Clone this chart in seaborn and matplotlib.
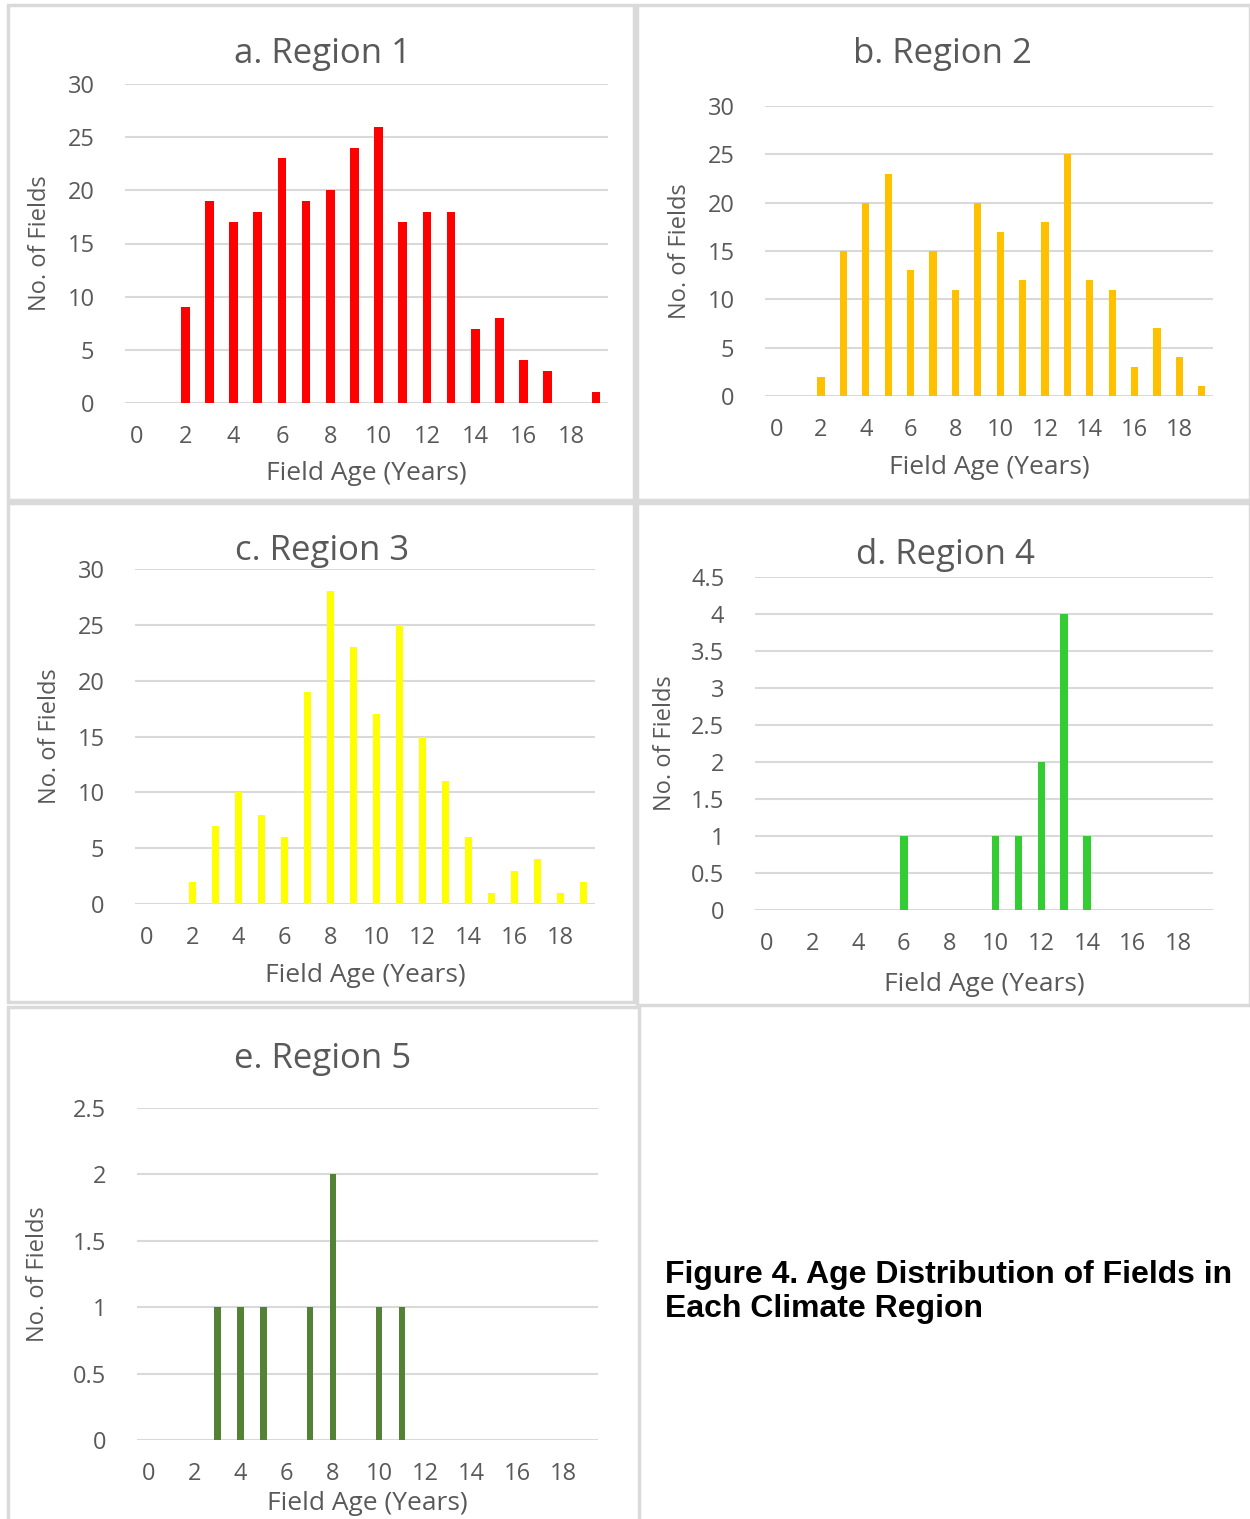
import matplotlib
matplotlib.use("Agg")
import matplotlib.pyplot as plt
import seaborn as sns
from matplotlib.patches import Rectangle

# field ages (category axis 0..19)
ages = list(range(20))
tick_labels = [str(a) for a in range(0, 20, 2)]

region1 = [0, 0, 9, 19, 17, 18, 23, 19, 20, 24, 26, 17, 18, 18, 7, 8, 4, 3, 0, 1]
region2 = [0, 0, 2, 15, 20, 23, 13, 15, 11, 20, 17, 12, 18, 25, 12, 11, 3, 7, 4, 1]
region3 = [0, 0, 2, 7, 10, 8, 6, 19, 28, 23, 17, 25, 15, 11, 6, 1, 3, 4, 1, 2]
region4 = [0, 0, 0, 0, 0, 0, 1, 0, 0, 0, 1, 1, 2, 4, 1, 0, 0, 0, 0, 0]
region5 = [0, 0, 0, 1, 1, 1, 0, 1, 2, 0, 1, 1, 0, 0, 0, 0, 0, 0, 0, 0]

titles = ["a. Region 1", "b. Region 2", "c. Region 3", "d. Region 4", "e. Region 5"]
colors = ["#FF0000", "#FFC000", "#FFFF00", "#33CC33", "#548235"]

W, H = 1250, 1519
TXT = "#595959"
GRID = "#D9D9D9"

sns.set_theme(style="white")
plt.rcParams['font.family'] = ['Open Sans', 'DejaVu Sans']

fig = plt.figure(figsize=(W / 100, H / 100), dpi=100)


def px_box(x0, y0, x1, y1):
    return [x0 / W, 1 - y1 / H, (x1 - x0) / W, (y1 - y0) / H]


# panel frames
for (x0, y0, x1, y1) in [(8, 5, 634, 500), (637, 5, 1250, 500), (8, 503, 634, 1002),
                         (637, 503, 1250, 1005), (8, 1007, 639, 1530)]:
    fig.patches.append(Rectangle((x0 / W, 1 - y1 / H), (x1 - x0) / W, (y1 - y0) / H,
                                 transform=fig.transFigure, fill=False,
                                 edgecolor="#DADADA", linewidth=2.5))

# (axes box px, ymax, ystep, title pos px, ylabel x px, xlabel y px, bar width)
panels = [
    ((125, 84, 608, 403), 30, 5, (322, 54), 40, 473, 0.36),
    ((765, 106, 1213, 396), 30, 5, (942, 54), 680, 467, 0.32),
    ((135, 569, 595, 904), 30, 5, (322, 551), 50, 976, 0.32),
    ((755, 577, 1213, 910), 4.5, 0.5, (945, 555), 665, 985, 0.32),
    ((137, 1108, 598, 1440), 2.5, 0.5, (323, 1059), 38, 1504, 0.29),
]
data = [region1, region2, region3, region4, region5]

for i, (box, ymax, ystep, tpos, ylx, xly, bw) in enumerate(panels):
    ax = fig.add_axes(px_box(*box))
    sns.barplot(x=ages, y=data[i], color=colors[i], width=bw, saturation=1,
                linewidth=0, ax=ax, zorder=3)
    ax.set_xlim(-0.5, 19.5)
    ax.set_ylim(0, ymax)
    n = int(round(ymax / ystep))
    yt = [k * ystep for k in range(n + 1)]
    ax.set_yticks(yt)
    ax.set_yticklabels([("%g" % v) for v in yt])
    ax.set_xticks(range(0, 20, 2))
    ax.set_xticklabels(tick_labels)
    ax.grid(axis="y", color=GRID, linewidth=1.5, zorder=0)
    ax.set_axisbelow(True)
    for s in ax.spines.values():
        s.set_visible(False)
    ax.tick_params(axis="both", length=0, labelsize=17, colors=TXT)
    ax.tick_params(axis="x", pad=16)
    ax.tick_params(axis="y", pad=22)

    x0, y0, x1, y1 = box
    ax.set_ylabel("No. of Fields", fontsize=17, color=TXT)
    ax.yaxis.set_label_coords((ylx - x0) / (x1 - x0), 0.5)
    ax.set_xlabel("Field Age (Years)", fontsize=19, color=TXT)
    ax.xaxis.set_label_coords(0.5, -(xly - y1) / (y1 - y0))
    ax.xaxis.label.set_va("center")
    ax.yaxis.label.set_va("center")
    fig.text(tpos[0] / W, 1 - tpos[1] / H, titles[i], fontsize=25, color=TXT,
             ha="center", va="center")

fig.text(665 / W, 1 - 1292 / H, "Figure 4. Age Distribution of Fields in\nEach Climate Region",
         fontsize=23, fontweight="bold", color="black", family=["Liberation Sans", "DejaVu Sans"],
         ha="left", va="center", linespacing=1.2)

fig.savefig("out.png", dpi=100)
